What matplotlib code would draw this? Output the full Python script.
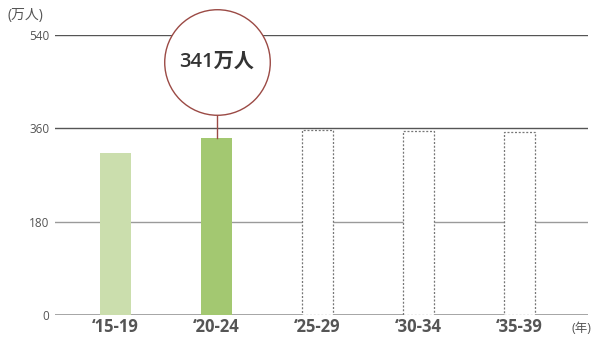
import matplotlib.pyplot as plt

plt.rcParams['font.family'] = ['Open Sans', 'Noto Sans CJK JP', 'DejaVu Sans']

# 期間ごとの人数（万人）
periods = ["‘15-19", "‘20-24", "‘25-29", "‘30-34", "‘35-39"]
actual = [312, 341]          # 実績
forecast = [357, 355, 353]   # 見通し（点線）
yticks = [0, 180, 360, 540]
callout_value = 341

fig = plt.figure(figsize=(5.94, 3.4), dpi=100)
ax = fig.add_axes([55 / 594, 25 / 340, 533 / 594, 280 / 340])

x = list(range(len(periods)))
w = 0.307

# 目盛り線
for v, c, lw in [(540, "#555555", 1.0), (360, "#555555", 1.0), (180, "#9a9a9a", 1.0), (0, "#8a8a8a", 1.8)]:
    ax.axhline(v, color=c, lw=lw, zorder=1)

ax.bar(x[0], actual[0], width=w, color="#cbdead", zorder=2)
ax.bar(x[1], actual[1], width=w, color="#a3c871", zorder=2)
ax.bar(x[2:], forecast, width=w, facecolor="white", edgecolor="#777777",
       linestyle=(0, (1.6, 1.4)), linewidth=0.9, zorder=2)

# 吹き出し
cy = 488
ax.plot([x[1], x[1]], [callout_value, cy], color="#9b4a45", lw=1, zorder=3, clip_on=False)
ax.plot(x[1], cy, marker="o", markersize=76, markerfacecolor="white",
        markeredgecolor="#9b4a45", markeredgewidth=1, zorder=4, clip_on=False)
ax.text(x[1], cy, f"{callout_value}万人", ha="center", va="center",
        fontsize=14.5, fontweight="semibold", color="#333333", zorder=5)

ax.set_xlim(-0.6, 4.68)
ax.set_ylim(0, 540)
ax.set_yticks(yticks)
ax.set_yticklabels([str(v) for v in yticks], fontsize=8.5, color="#555555")
ax.set_xticks(x)
ax.set_xticklabels(periods, fontsize=12, fontweight="bold", color="#555555")
ax.tick_params(axis="both", length=0)
ax.tick_params(axis="y", pad=4)
ax.tick_params(axis="x", pad=2)
for s in ax.spines.values():
    s.set_visible(False)

fig.text(8 / 594, 1 - 15 / 340, "(万人)", fontsize=10, color="#555555", va="center")
fig.text(591 / 594, 1 - 328 / 340, "(年)", fontsize=9, color="#555555",
         va="center", ha="right")

fig.savefig("out.png", dpi=100)
